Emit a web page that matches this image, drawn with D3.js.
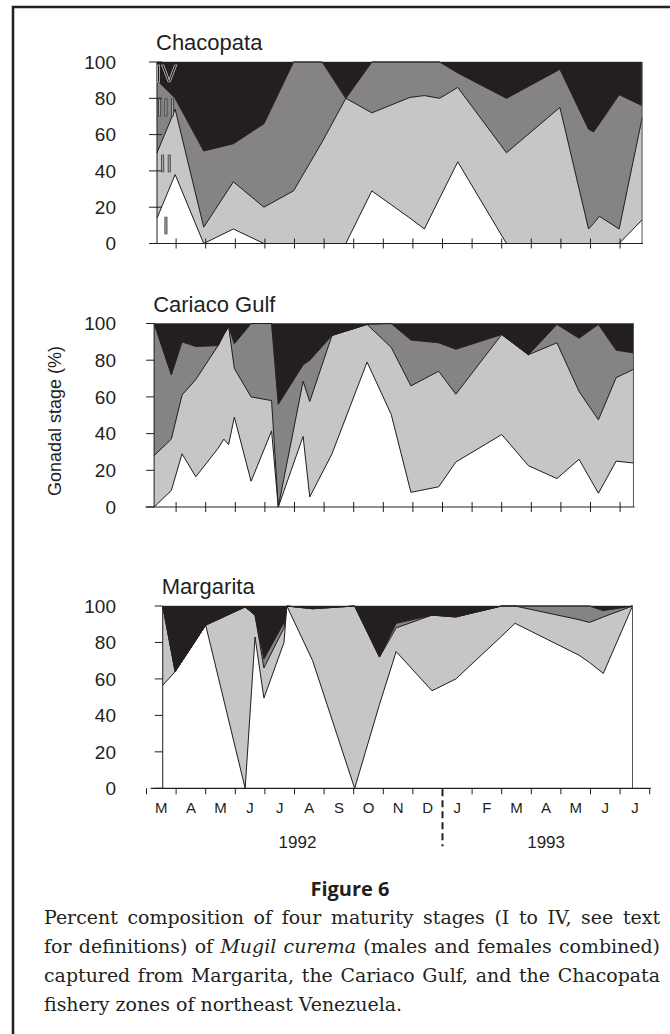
<!DOCTYPE html>
<html lang="en">
<head>
<meta charset="utf-8">
<title>Figure 6</title>
<script src="https://d3js.org/d3.v7.min.js"></script>
<style>
  body { margin: 0; background: #fff; }
  svg { display: block; }
</style>
</head>
<body>
<div id="chart"></div>
<script>
// stages and axis labels
var stages = ["I", "II", "III", "IV"];
var monthLabels = ["M", "A", "M", "J", "J", "A", "S", "O", "N", "D", "J", "F", "M", "A", "M", "J", "J"];
var yearLabels = ["1992", "1993"];
var yTicks = [0, 20, 40, 60, 80, 100];

// Chacopata: sample dates and % of each stage
var chacopataDates = ["1992-03-12", "1992-03-31", "1992-04-29", "1992-05-30", "1992-06-30", "1992-07-31",
  "1992-08-30", "1992-09-23", "1992-10-20", "1992-11-28", "1992-12-13", "1992-12-29", "1993-01-17",
  "1993-03-06", "1993-04-30", "1993-05-30", "1993-06-04", "1993-06-10", "1993-06-30", "1993-07-24"];
var chacopataI   = [14, 38, 0, 8, 0, 0, 0, 0, 29, 14, 8, 25, 45, 0, 0, 0, 0, 0, 0, 13];
var chacopataII  = [36, 36, 9, 26, 20, 29, 56, 80, 43, 66.5, 73.5, 55, 41, 50, 75, 8, 11, 15, 8, 56];
var chacopataIII = [40, 6, 42, 21, 46, 71, 44, 0, 28, 19.5, 18.5, 20, 8, 30, 21, 55, 50.5, 51, 74, 7];
var chacopataIV  = [10, 20, 49, 45, 34, 0, 0, 20, 0, 0, 0, 0, 6, 20, 4, 37, 38.5, 34, 18, 24];

// Cariaco Gulf
var cariacoDates = ["1992-03-09", "1992-03-27", "1992-04-07", "1992-04-21", "1992-05-14", "1992-05-20",
  "1992-05-25", "1992-05-31", "1992-06-17", "1992-07-08", "1992-07-15", "1992-08-10", "1992-08-17",
  "1992-09-09", "1992-10-15", "1992-11-09", "1992-11-29", "1992-12-28", "1993-01-15", "1993-03-01",
  "1993-03-29", "1993-04-27", "1993-05-20", "1993-06-09", "1993-06-27", "1993-07-15"];
var cariacoI   = [0, 9, 29, 16.5, 32, 37, 34, 49, 14, 41.5, 0, 38.5, 5.5, 29, 79, 50.5, 8, 11, 24.5, 39.5, 22.5, 15.5, 26, 7.5, 25, 24];
var cariacoII  = [28, 28, 32, 53, 56, 57, 64.5, 26.5, 46, 16.5, 0, 30, 52, 64.5, 20.5, 36.5, 58, 63, 37, 54.5, 60.5, 74, 37, 40, 45.5, 51];
var cariacoIII = [72, 35, 29, 18, 0, 0, 0, 13.5, 40, 42, 56, 9, 22.5, 0, 0, 13, 25, 15.5, 24.5, 0, 0, 10, 29, 52, 15, 9];
var cariacoIV  = [0, 28, 10, 12.5, 12, 6, 1.5, 11, 0, 0, 44, 22.5, 20, 6.5, 0.5, 0, 9, 10.5, 14, 6, 17, 0.5, 8, 0.5, 14.5, 16];

// Margarita
var margaritaDates = ["1992-03-18", "1992-03-31", "1992-05-01", "1992-06-11", "1992-06-21", "1992-06-30",
  "1992-07-21", "1992-07-24", "1992-08-20", "1992-10-02", "1992-10-28", "1992-11-14", "1992-12-21",
  "1993-01-15", "1993-03-01", "1993-03-15", "1993-05-20", "1993-05-31", "1993-06-14", "1993-07-14"];
var margaritaI   = [56.5, 64, 89.5, 0, 83, 49.5, 80, 100, 70, 0, 46, 75, 53.5, 60, 83.5, 90.5, 73, 69, 63, 100];
var margaritaII  = [43.5, 0, 0, 99.5, 12, 16.5, 8, 0, 28.5, 100, 26, 13, 41.5, 34, 16.5, 9.5, 19.5, 22, 31, 0];
var margaritaIII = [0, 0, 0, 0, 0, 5, 3, 0, 0, 0, 0, 2.5, 0, 0, 0, 0, 7.5, 9, 3.5, 0];
var margaritaIV  = [0, 36, 10.5, 0.5, 5, 29, 9, 0, 1.5, 0, 28, 9.5, 5, 6, 0, 0, 0, 0, 2.5, 0];

var captionLines = [
  [{t: "Percent composition of four maturity stages (I to IV, see text"}],
  [{t: "for definitions) of "}, {t: "Mugil curema", i: true}, {t: " (males and females combined)"}],
  [{t: "captured from Margarita, the Cariaco Gulf, and the Chacopata"}],
  [{t: "fishery zones of northeast Venezuela."}]
];

var fills = ["#ffffff", "#c6c6c5", "#858384", "#231f20"];
var ink = "#231f20";
var sans = "'Liberation Sans', Arial, sans-serif";

var svg = d3.select('#chart')
  .append('svg')
  .attr('width', 670)
  .attr('height', 1034);

// grey-scale rendering for the roman numerals
svg.append('defs').append('filter')
  .attr('id', 'flat')
  .append('feOffset').attr('dx', 0).attr('dy', 0);

// months since 1 March 1992
var monthIndex = function(s) {
  var p = s.split('-').map(Number);
  var days = new Date(p[0], p[1], 0).getDate();
  return (p[0] - 1992) * 12 + (p[1] - 3) + (p[2] - 1) / days;
};

var x = d3.scaleLinear().domain([0, 17]).range([146.5, 649.7]);

var panels = [
  {name: "Chacopata", dates: chacopataDates, vals: [chacopataI, chacopataII, chacopataIII, chacopataIV],
   top: 62, bottom: 243.5, axisFrom: 150, axisTo: 643, ticks: d3.range(1, 17), tickUp: 5, tickDown: 5,
   yTickFrom: -8, yTickTo: 5, stageLabels: true},
  {name: "Cariaco Gulf", dates: cariacoDates, vals: [cariacoI, cariacoII, cariacoIII, cariacoIV],
   top: 323.5, bottom: 507, axisFrom: 145.5, axisTo: 634.5, ticks: d3.range(1, 17), tickUp: 5, tickDown: 5,
   yTickFrom: -8, yTickTo: 0},
  {name: "Margarita", dates: margaritaDates, vals: [margaritaI, margaritaII, margaritaIII, margaritaIV],
   top: 606, bottom: 788.3, axisFrom: 150.7, axisTo: 650.7, ticks: d3.range(0, 18), tickUp: 0, tickDown: 6,
   yTickFrom: -8, yTickTo: 0, months: true}
];

var drawPanel = function(p) {
  var g = svg.append('g');
  var y = d3.scaleLinear().domain([0, 100]).range([p.bottom, p.top]);

  var rows = p.dates.map(function(d, i) {
    var r = {t: monthIndex(d)};
    stages.forEach(function(s, k) { r[s] = p.vals[k][i]; });
    return r;
  });
  var series = d3.stack().keys(stages)(rows);

  var area = d3.area()
    .x(function(d) { return x(d.data.t); })
    .y0(function(d) { return y(d[0]); })
    .y1(function(d) { return y(d[1]); });

  g.selectAll('.layer')
    .data(series)
    .enter()
    .append('path')
      .attr('class', 'layer')
      .attr('d', area)
      .attr('fill', function(d, i) { return fills[i]; })
      .attr('stroke', function(d, i) { return fills[i]; })
      .attr('stroke-width', 0.4);

  // boundary lines between stages
  var line = d3.line()
    .x(function(d) { return x(d.data.t); })
    .y(function(d) { return y(d[1]); });
  g.selectAll('.edge')
    .data(series.slice(0, 3))
    .enter()
    .append('path')
      .attr('d', line)
      .attr('fill', 'none')
      .attr('stroke', ink)
      .attr('stroke-width', 1);

  // left and right sides of the plot
  var first = x(rows[0].t), last = x(rows[rows.length - 1].t);
  [first, last].forEach(function(xx, i) {
    g.append('line')
      .attr('x1', xx).attr('x2', xx)
      .attr('y1', y(0)).attr('y2', y(100))
      .attr('stroke', i == 0 ? ink : '#555')
      .attr('stroke-width', 1);
  });

  // x axis
  g.append('line')
    .attr('x1', p.axisFrom).attr('x2', p.axisTo)
    .attr('y1', y(0)).attr('y2', y(0))
    .attr('stroke', ink).attr('stroke-width', 1.2);
  g.selectAll('.xtick')
    .data(p.ticks)
    .enter()
    .append('line')
      .attr('x1', function(d) { return x(d); })
      .attr('x2', function(d) { return x(d); })
      .attr('y1', y(0) - p.tickUp)
      .attr('y2', y(0) + p.tickDown)
      .attr('stroke', ink).attr('stroke-width', 1);

  // y ticks and labels
  g.selectAll('.ytick')
    .data(yTicks)
    .enter()
    .append('line')
      .attr('x1', first + p.yTickFrom)
      .attr('x2', first + p.yTickTo)
      .attr('y1', function(d) { return y(d); })
      .attr('y2', function(d) { return y(d); })
      .attr('stroke', ink).attr('stroke-width', 1);
  g.selectAll('.ylab')
    .data(yTicks)
    .enter()
    .append('text')
      .attr('x', 116)
      .attr('y', function(d) { return y(d); })
      .attr('dy', '0.36em')
      .attr('text-anchor', 'end')
      .style('font-family', sans)
      .style('font-size', '19px')
      .attr('fill', ink)
      .text(function(d) { return d; });

  // panel title
  g.append('text')
    .attr('x', first - 1)
    .attr('y', p.top - 12)
    .style('font-family', sans)
    .style('font-size', '22px')
    .attr('fill', ink)
    .text(p.name);

  if (p.stageLabels) {
    // hollow roman numerals inside the first panel
    var at = [10, 44, 75, 93.5];
    var lab = g.append('g').attr('filter', 'url(#flat)');
    stages.forEach(function(s, k) {
      lab.append('text')
        .attr('x', first + 9)
        .attr('y', y(at[k]))
        .attr('dy', '0.36em')
        .attr('text-anchor', 'middle')
        .style('font-family', sans)
        .style('font-size', '23px')
        .attr('fill', k == 3 ? ink : '#a9a9a9')
        .attr('stroke', k == 3 ? '#d0d0d0' : ink)
        .attr('stroke-width', 0.7)
        .text(s);
    });
  }

  if (p.months) {
    g.selectAll('.mlab')
      .data(monthLabels)
      .enter()
      .append('text')
        .attr('x', function(d, i) { return x(i + 0.5); })
        .attr('y', y(0) + 25)
        .attr('text-anchor', 'middle')
        .style('font-family', sans)
        .style('font-size', '15px')
        .attr('fill', ink)
        .text(function(d) { return d; });
    g.selectAll('.year')
      .data(yearLabels)
      .enter()
      .append('text')
        .attr('x', function(d, i) { return i == 0 ? x(5.1) : x(13.5); })
        .attr('y', y(0) + 60)
        .attr('text-anchor', 'middle')
        .style('font-family', sans)
        .style('font-size', '17px')
        .attr('fill', ink)
        .text(function(d) { return d; });
    // year break
    g.append('line')
      .attr('x1', x(10)).attr('x2', x(10))
      .attr('y1', y(0) + 1).attr('y2', y(0) + 58)
      .attr('stroke', ink).attr('stroke-width', 2)
      .attr('stroke-dasharray', '7,4');
  }
};

panels.forEach(drawPanel);

// y axis title
svg.append('text')
  .attr('transform', 'translate(61, 421)rotate(-90)')
  .attr('text-anchor', 'middle')
  .style('font-family', sans)
  .style('font-size', '18px')
  .attr('fill', ink)
  .text('Gonadal stage (%)');

// frame
svg.append('path')
  .attr('d', 'M13,1034V7H670')
  .attr('fill', 'none')
  .attr('stroke', ink)
  .attr('stroke-width', 2.5);

// caption
svg.append('text')
  .attr('x', 350)
  .attr('y', 896)
  .attr('text-anchor', 'middle')
  .style('font-family', "'Open Sans', 'Noto Sans', sans-serif")
  .style('font-weight', 'bold')
  .style('font-size', '20px')
  .attr('fill', ink)
  .text('Figure 6');

var capLeft = 44, capWidth = 616;
var cap = svg.append('g')
  .style('font-family', "'DejaVu Serif', serif")
  .style('font-size', '18px')
  .attr('fill', ink);
var capTexts = captionLines.map(function(parts, i) {
  var t = cap.append('text')
    .attr('x', capLeft)
    .attr('y', 924 + i * 29);
  parts.forEach(function(pt) {
    t.append('tspan')
      .style('font-style', pt.i ? 'italic' : 'normal')
      .text(pt.t);
  });
  return t;
});
// fit the font so the widest line is a bit under the column, then justify with word spacing
var widest = d3.max(capTexts, function(t) { return t.node().getComputedTextLength(); });
var capSize = Math.min(19, 18 * (capWidth - 10) / widest);
cap.style('font-size', capSize + 'px');
capTexts.forEach(function(t, i) {
  if (i == capTexts.length - 1) return;
  var words = t.text().split(' ').length - 1;
  var extra = (capWidth - t.node().getComputedTextLength()) / words;
  t.style('word-spacing', extra + 'px');
});
</script>
</body>
</html>
